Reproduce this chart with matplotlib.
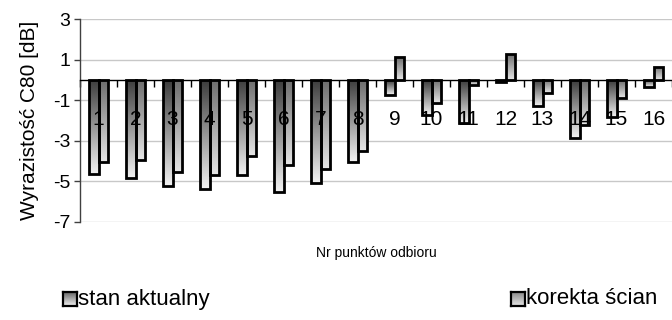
import numpy as np
import matplotlib
matplotlib.use("Agg")
import matplotlib.pyplot as plt
from matplotlib.colors import LinearSegmentedColormap

plt.rcParams['font.family'] = ['Liberation Sans', 'DejaVu Sans']
plt.rcParams['axes.unicode_minus'] = False

# Measurement points and C80 clarity values [dB]
points = [str(i) for i in range(1, 17)]
stan_aktualny = [-4.65, -4.85, -5.2, -5.35, -4.7, -5.5, -5.1, -4.05,
                 -0.72, -1.7, -2.1, -0.08, -1.3, -2.85, -1.8, -0.35]
korekta_scian = [-4.05, -3.95, -4.55, -4.7, -3.75, -4.2, -4.4, -3.5,
                 1.12, -1.15, -0.23, 1.3, -0.65, -2.2, -0.88, 0.65]
series_names = ["stan aktualny", "korekta ścian"]
y_ticks = [3, 1, -1, -3, -5, -7]

cmap1 = LinearSegmentedColormap.from_list("s1", ["#3c3c3c", "#f2f2f2"])
cmap2 = LinearSegmentedColormap.from_list("s2", ["#6c6c6c", "#e6e6e6"])
grad = np.linspace(0, 1, 256).reshape(-1, 1)

fig = plt.figure(figsize=(6.72, 3.2), dpi=100)
ax = fig.add_axes([80 / 672, 1 - 222 / 320, 592 / 672, 202.7 / 320])

for yt in y_ticks:
    ax.axhline(yt, color="#c8c8c8", lw=1.0, zorder=0)

width = 0.27
x = np.arange(len(points))


def gradient_bars(xs, vals, cmap, offset):
    bars = ax.bar(xs + offset, vals, width=width, align='edge',
                  facecolor='none', edgecolor='black', linewidth=2.0, zorder=3)
    for b in bars:
        x0, y0 = b.get_x(), b.get_y()
        w, h = b.get_width(), b.get_height()
        top, bot = max(y0, y0 + h), min(y0, y0 + h)
        im = ax.imshow(grad, cmap=cmap, aspect='auto',
                       extent=(x0, x0 + w, bot, top), origin='upper',
                       zorder=2, interpolation='bilinear')
        im.set_clip_path(b)
    return bars


gradient_bars(x, stan_aktualny, cmap1, -width)
gradient_bars(x, korekta_scian, cmap2, 0.0)
ax.set_xlim(-0.5, 15.5)
ax.set_ylim(-7, 3)

for xi, lab in zip(x, points):
    ax.text(xi, -1.95, lab, ha='center', va='center', fontsize=15,
            color='black', zorder=5)

# axes styling
for s in ['top', 'right']:
    ax.spines[s].set_visible(False)
ax.spines['bottom'].set_position(('data', 0))
ax.spines['bottom'].set_linewidth(1.0)
ax.spines['bottom'].set_zorder(4)
ax.spines['left'].set_color('#404040')
ax.spines['left'].set_linewidth(1.0)
ax.set_xticks(np.arange(-0.5, 15.6, 1.0))
ax.set_xticklabels([])
ax.tick_params(axis='x', direction='out', length=5, width=1.0)
ax.set_yticks(y_ticks)
ax.set_yticklabels([str(v) for v in y_ticks], fontsize=14)
ax.tick_params(axis='y', direction='out', length=4, width=1.0,
               color='#404040', pad=3)
ax.set_ylabel("Wyrazistość C80 [dB]", fontsize=15, labelpad=10)

fig.text(376 / 672, 1 - 253 / 320, "Nr punktów odbioru", ha='center',
         va='center', fontsize=10)

# legend built from gradient squares and labels
legend_pos = [(63, series_names[0], cmap1), (511, series_names[1], cmap2)]
for px, name, cm in legend_pos:
    lax = fig.add_axes([px / 672, 1 - 306 / 320, 14 / 672, 14 / 320])
    lax.imshow(grad, cmap=cm, aspect='auto', vmin=-0.3, vmax=1)
    lax.set_xticks([])
    lax.set_yticks([])
    for sp in lax.spines.values():
        sp.set_linewidth(1.6)
    fig.text((px + 15) / 672, 1 - 299 / 320, name, ha='left',
             va='center', fontsize=16)

fig.savefig("out.png", dpi=100)
